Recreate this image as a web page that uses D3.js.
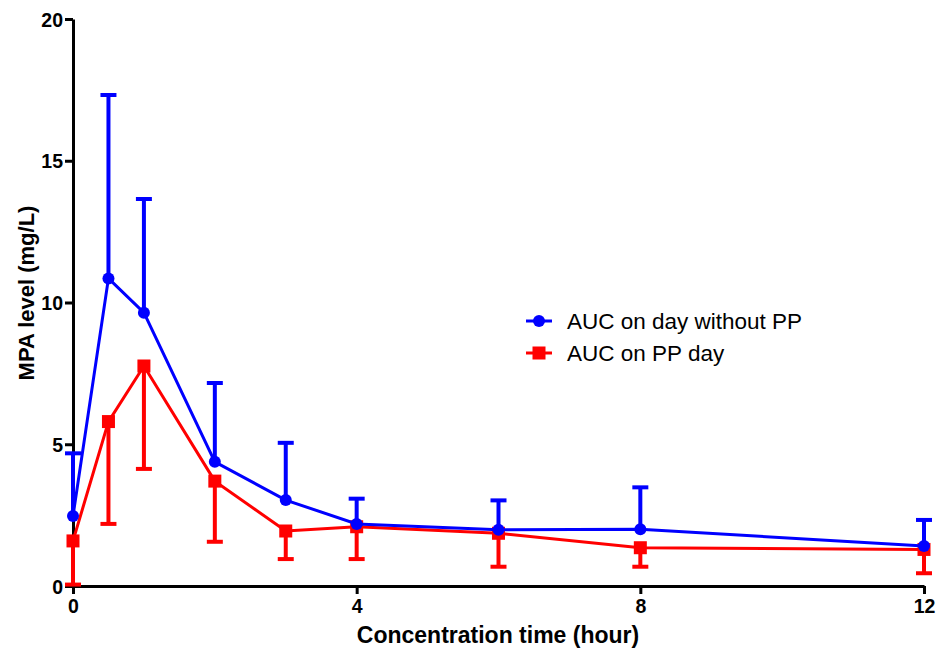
<!DOCTYPE html>
<html>
<head>
<meta charset="utf-8">
<script src="https://cdn.jsdelivr.net/npm/d3@7/dist/d3.min.js"></script>
<style>
  body { margin: 0; background: #fff; }
  svg { display: block; }
  text { font-family: "Liberation Sans", Arial, sans-serif; }
</style>
</head>
<body>
<svg id="chart" width="939" height="655"></svg>
<script>
// sampling times (hour)
var times = [0, 0.5, 1, 2, 3, 4, 6, 8, 12];
// AUC on day without PP: mean and upper error
var blueMean = [2.47, 10.85, 9.64, 4.38, 3.03, 2.19, 1.98, 2.0, 1.41];
var blueUpper = [4.68, 17.32, 13.65, 7.16, 5.05, 3.08, 3.02, 3.48, 2.33];
// AUC on PP day: mean and lower error
var redMean = [1.59, 5.8, 7.76, 3.7, 1.94, 2.09, 1.86, 1.35, 1.29];
var redLower = [0.05, 2.19, 4.13, 1.56, 0.95, 0.95, 0.68, 0.68, 0.45];

var xTicks = [0, 4, 8, 12];
var yTicks = [0, 5, 10, 15, 20];
var seriesNames = ["AUC on day without PP", "AUC on PP day"];

var svg = d3.select("#chart");

var x = d3.scaleLinear().domain([0, 12]).range([73, 924]);
var y = d3.scaleLinear().domain([0, 20]).range([586, 19]);

// axes
var yAxis = svg.append("g")
  .attr("transform", "translate(" + x(0) + ",0)")
  .call(d3.axisLeft(y).tickValues(yTicks).tickSize(8).tickSizeOuter(0).tickPadding(2));
var xAxis = svg.append("g")
  .attr("transform", "translate(0," + y(0) + ")")
  .call(d3.axisBottom(x).tickValues(xTicks).tickSize(8).tickSizeOuter(0).tickPadding(5));

[xAxis, yAxis].forEach(function(a) {
  a.select(".domain").attr("stroke", "#000").attr("stroke-width", 3);
  a.selectAll(".tick line").attr("stroke", "#000").attr("stroke-width", 3);
  a.selectAll(".tick text")
    .attr("fill", "#000")
    .style("font-size", "19.5px")
    .style("font-weight", "bold")
    .style("font-family", "'Liberation Sans', Arial, sans-serif");
});
yAxis.selectAll(".tick text").attr("dy", "0.36em");

// axis titles
svg.append("text")
  .attr("x", 498).attr("y", 643)
  .attr("text-anchor", "middle")
  .style("font-size", "23px").style("font-weight", "bold")
  .text("Concentration time (hour)");
svg.append("text")
  .attr("transform", "translate(34,293) rotate(-90)")
  .attr("text-anchor", "middle")
  .style("font-size", "22px").style("font-weight", "bold")
  .text("MPA level (mg/L)");

var line = d3.line()
  .x(function(d) { return x(d[0]); })
  .y(function(d) { return y(d[1]); });

function drawSeries(mean, err, color, shape) {
  var g = svg.append("g");
  var pts = times.map(function(t, i) { return [t, mean[i], err[i]]; });
  // error bars
  g.selectAll(".eb").data(pts).enter().append("line")
    .attr("x1", function(d) { return x(d[0]); })
    .attr("x2", function(d) { return x(d[0]); })
    .attr("y1", function(d) { return y(d[1]); })
    .attr("y2", function(d) { return y(d[2]); })
    .attr("stroke", color).attr("stroke-width", 4);
  g.selectAll(".cap").data(pts).enter().append("line")
    .attr("x1", function(d) { return x(d[0]) - 8; })
    .attr("x2", function(d) { return x(d[0]) + 8; })
    .attr("y1", function(d) { return y(d[2]); })
    .attr("y2", function(d) { return y(d[2]); })
    .attr("stroke", color).attr("stroke-width", 4);
  g.append("path").datum(pts)
    .attr("d", line)
    .attr("fill", "none").attr("stroke", color).attr("stroke-width", 3);
  if (shape === "circle") {
    g.selectAll(".pt").data(pts).enter().append("circle")
      .attr("cx", function(d) { return x(d[0]); })
      .attr("cy", function(d) { return y(d[1]); })
      .attr("r", 6).attr("fill", color);
  } else {
    g.selectAll(".pt").data(pts).enter().append("rect")
      .attr("x", function(d) { return x(d[0]) - 6.5; })
      .attr("y", function(d) { return y(d[1]) - 6.5; })
      .attr("width", 13).attr("height", 13).attr("fill", color);
  }
}

drawSeries(redMean, redLower, "#ff0000", "square");
drawSeries(blueMean, blueUpper, "#0000ff", "circle");

// legend
var legend = svg.append("g").attr("transform", "translate(526,321)");
var colors = ["#0000ff", "#ff0000"];
seriesNames.forEach(function(name, i) {
  var row = legend.append("g").attr("transform", "translate(0," + (i * 32) + ")");
  row.append("line").attr("x1", 0).attr("x2", 26).attr("y1", 0).attr("y2", 0)
    .attr("stroke", colors[i]).attr("stroke-width", 3);
  if (i === 0) {
    row.append("circle").attr("cx", 13).attr("cy", 0).attr("r", 6).attr("fill", colors[i]);
  } else {
    row.append("rect").attr("x", 6.5).attr("y", -6.5).attr("width", 13).attr("height", 13).attr("fill", colors[i]);
  }
  row.append("text").attr("x", 41).attr("y", 8)
    .style("font-size", "22.5px").attr("fill", "#000")
    .text(name);
});
</script>
</body>
</html>
